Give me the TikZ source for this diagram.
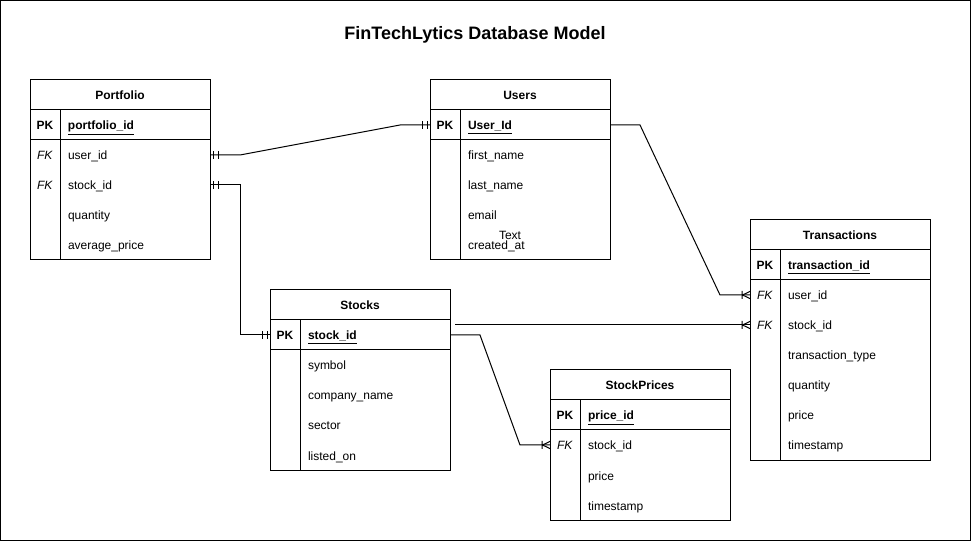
\documentclass[tikz,border=0pt]{standalone}
\usepackage{fontspec}
\setmainfont{Liberation Sans}
\usetikzlibrary{positioning, decorations.markings}

\tikzset{
  tblhead/.style={draw, line width=0.75pt, outer sep=0pt, minimum width=135pt,
    minimum height=22.5pt, text height=8.25pt, text depth=0.75pt,
    font=\fontsize{9}{11}\selectfont\bfseries},
  tblrow/.style={outer sep=0pt, minimum height=22.5pt, text width=135pt,
    text height=8.25pt, text depth=0.75pt,
    inner xsep=0pt, align=left, font=\fontsize{9}{11}\selectfont},
  rel/.style={line width=0.75pt},
  onebar/.style={decoration={markings,
    mark=at position #1 with {\draw[line width=0.75pt] (0,-3pt) -- (0,3pt);}}},
  oneone/.style={postaction={decorate, onebar=2.25pt}, postaction={decorate, onebar=6pt},
    postaction={decorate, onebar=-2.25pt}, postaction={decorate, onebar=-6pt}},
  onemany/.style={postaction={decorate, decoration={markings,
    mark=at position -6pt with {\draw[line width=0.75pt] (0,-3pt) -- (0,3pt)
      (0.4pt,0) -- (6pt,2.7pt) (0.4pt,0) -- (6pt,-2.7pt);}}}}
}
\newcommand{\keycol}[1]{\makebox[22.5pt]{#1}\hspace{6pt}}

\begin{document}
\begin{tikzpicture}[x=0.75pt,y=-0.75pt]
\useasboundingbox (0,0) rectangle (971,541);
\draw[line width=1pt] (0.5,0.5) rectangle (970.5,540.5);

\node (title) at (475,35) {\fontsize{13.5}{16}\selectfont\bfseries FinTechLytics Database Model};

% Portfolio
\node[tblhead] (portfolio) at (120,95) {Portfolio};
\node[tblrow, below=0pt of portfolio] (pf-pk) {\keycol{\textbf{PK}}\textbf{\underline{portfolio\_id}}};
\node[tblrow, below=0pt of pf-pk] (pf-user) {\keycol{\textit{FK}}user\_id};
\node[tblrow, below=0pt of pf-user] (pf-stock) {\keycol{\textit{FK}}stock\_id};
\node[tblrow, below=0pt of pf-stock] (pf-qty) {\keycol{}quantity};
\node[tblrow, below=0pt of pf-qty] (pf-avg) {\keycol{}average\_price};
\draw[line width=0.75pt] (pf-pk.north west) rectangle (pf-avg.south east);
\draw[line width=0.75pt] (pf-pk.south west) -- (pf-pk.south east);
\draw[line width=0.75pt] ([xshift=22.5pt]pf-pk.north west) -- ([xshift=22.5pt]pf-avg.south west);

% Users
\node[tblhead] (users) at (520,95) {Users};
\node[tblrow, below=0pt of users] (us-pk) {\keycol{\textbf{PK}}\textbf{\underline{User\_Id}}};
\node[tblrow, below=0pt of us-pk] (us-first) {\keycol{}first\_name};
\node[tblrow, below=0pt of us-first] (us-last) {\keycol{}last\_name};
\node[tblrow, below=0pt of us-last] (us-mail) {\keycol{}email};
\node[tblrow, below=0pt of us-mail] (us-created) {\keycol{}created\_at};
\node[font=\fontsize{9}{11}\selectfont] (stray) at (510,235) {Text};
\draw[line width=0.75pt] (us-pk.north west) rectangle (us-created.south east);
\draw[line width=0.75pt] (us-pk.south west) -- (us-pk.south east);
\draw[line width=0.75pt] ([xshift=22.5pt]us-pk.north west) -- ([xshift=22.5pt]us-created.south west);

% Stocks
\node[tblhead] (stocks) at (360,305) {Stocks};
\node[tblrow, below=0pt of stocks] (st-pk) {\keycol{\textbf{PK}}\textbf{\underline{stock\_id}}};
\node[tblrow, below=0pt of st-pk] (st-sym) {\keycol{}symbol};
\node[tblrow, below=0pt of st-sym] (st-comp) {\keycol{}company\_name};
\node[tblrow, below=0pt of st-comp] (st-sector) {\keycol{}sector};
\node[tblrow, below=0pt of st-sector] (st-listed) {\keycol{}listed\_on};
\draw[line width=0.75pt] (st-pk.north west) rectangle (st-listed.south east);
\draw[line width=0.75pt] (st-pk.south west) -- (st-pk.south east);
\draw[line width=0.75pt] ([xshift=22.5pt]st-pk.north west) -- ([xshift=22.5pt]st-listed.south west);

% Transactions
\node[tblhead] (trans) at (840,235) {Transactions};
\node[tblrow, below=0pt of trans] (tr-pk) {\keycol{\textbf{PK}}\textbf{\underline{transaction\_id}}};
\node[tblrow, below=0pt of tr-pk] (tr-user) {\keycol{\textit{FK}}user\_id};
\node[tblrow, below=0pt of tr-user] (tr-stock) {\keycol{\textit{FK}}stock\_id};
\node[tblrow, below=0pt of tr-stock] (tr-type) {\keycol{}transaction\_type};
\node[tblrow, below=0pt of tr-type] (tr-qty) {\keycol{}quantity};
\node[tblrow, below=0pt of tr-qty] (tr-price) {\keycol{}price};
\node[tblrow, below=0pt of tr-price] (tr-time) {\keycol{}timestamp};
\draw[line width=0.75pt] (tr-pk.north west) rectangle (tr-time.south east);
\draw[line width=0.75pt] (tr-pk.south west) -- (tr-pk.south east);
\draw[line width=0.75pt] ([xshift=22.5pt]tr-pk.north west) -- ([xshift=22.5pt]tr-time.south west);

% StockPrices
\node[tblhead] (prices) at (640,385) {StockPrices};
\node[tblrow, below=0pt of prices] (sp-pk) {\keycol{\textbf{PK}}\textbf{\underline{price\_id}}};
\node[tblrow, below=0pt of sp-pk] (sp-stock) {\keycol{\textit{FK}}stock\_id};
\node[tblrow, below=0pt of sp-stock] (sp-price) {\keycol{}price};
\node[tblrow, below=0pt of sp-price] (sp-time) {\keycol{}timestamp};
\draw[line width=0.75pt] (sp-pk.north west) rectangle (sp-time.south east);
\draw[line width=0.75pt] (sp-pk.south west) -- (sp-pk.south east);
\draw[line width=0.75pt] ([xshift=22.5pt]sp-pk.north west) -- ([xshift=22.5pt]sp-time.south west);

% relations
\draw[rel, oneone] (pf-user.east) -- ++(30,0) -- ([xshift=-22.5pt]us-pk.west) -- (us-pk.west);
\draw[rel, oneone] (pf-stock.east) -- ++(30,0) |- (st-pk.west);
\draw[rel, onemany] (us-pk.east) -- ++(30,0) -- ([xshift=-22.5pt]tr-user.west) -- (tr-user.west);
\coordinate (st-free) at (455,325);
\draw[rel, onemany] (st-free) -- (tr-stock.west);
\draw[rel, onemany] (st-pk.east) -- ++(30,0) -- ([xshift=-22.5pt]sp-stock.west) -- (sp-stock.west);
\end{tikzpicture}
\end{document}
